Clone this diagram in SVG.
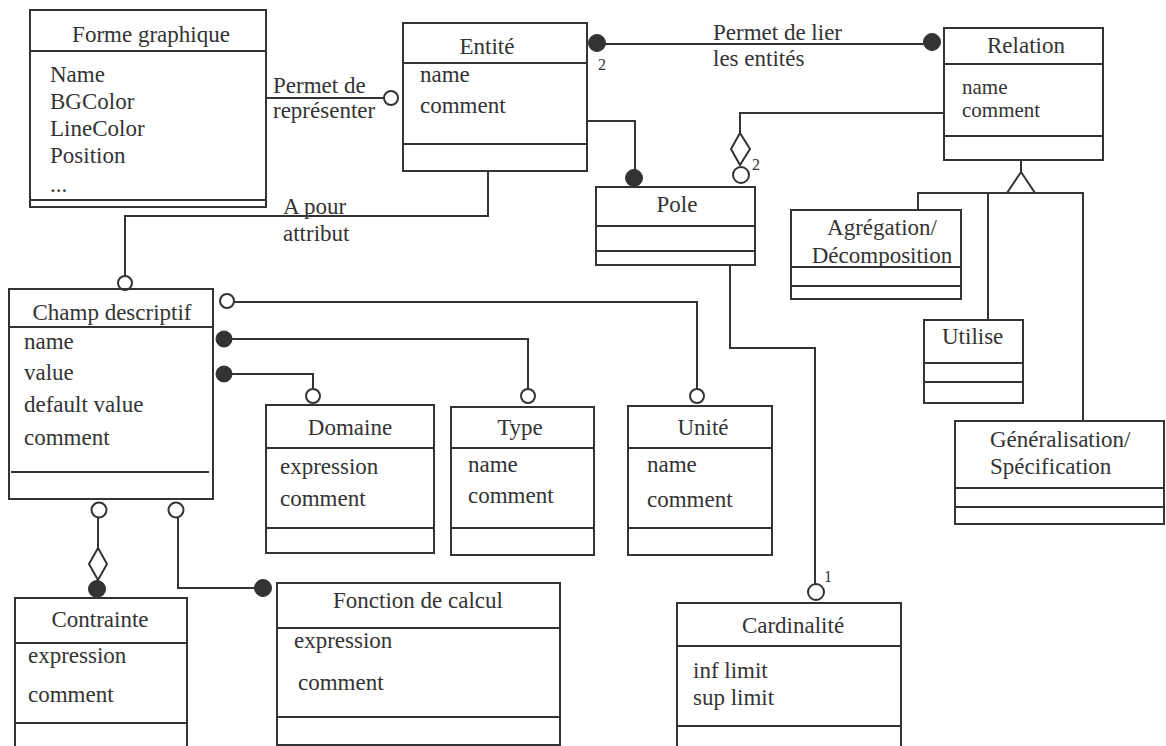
<svg xmlns="http://www.w3.org/2000/svg" width="1166" height="746" viewBox="0 0 1166 746">
<style>
.box{fill:none;stroke:#333;stroke-width:2}
.ln{fill:none;stroke:#333;stroke-width:2}
.t{font-family:"Liberation Serif","Times New Roman",serif;font-size:23px;fill:#333}
.r{font-size:21px}
.s{font-family:"Liberation Serif","Times New Roman",serif;font-size:16px;fill:#333}
.c{text-anchor:middle}
.ho{fill:#fff;stroke:#333;stroke-width:2}
.fi{fill:#333;stroke:#333;stroke-width:1}
</style>
<rect width="1166" height="746" fill="#fff"/>
<g id="connectors">
  <path class="ln" d="M266 98 H384"/>
  <circle class="ho" cx="391" cy="98" r="7"/>
  <text class="t" x="273" y="93">Permet de</text>
  <text class="t" x="273" y="118">représenter</text>
  <path class="ln" d="M597 44 H932"/>
  <circle class="fi" cx="597" cy="43" r="8.5"/>
  <circle class="fi" cx="932" cy="42" r="8.5"/>
  <text class="s" x="598" y="70">2</text>
  <text class="t" x="713" y="40">Permet de lier</text>
  <text class="t" x="713" y="66">les entités</text>
  <path class="ln" d="M587 121 H635 V172"/>
  <circle class="fi" cx="634" cy="178" r="8.5"/>
  <path class="ln" d="M944 113 H740 V133"/>
  <path class="ln" d="M740 133 L750 149 L740 165 L731 149 Z"/>
  <circle class="ho" cx="741" cy="175" r="8"/>
  <text class="s" x="752" y="170">2</text>
  <path class="ln" d="M730 265 V348 H815 V584"/>
  <circle class="ho" cx="816" cy="592" r="8"/>
  <text class="s" x="824" y="582">1</text>
  <path class="ln" d="M1021 160 V172"/>
  <path class="ln" d="M1021 172 L1035 193 L1007 193 Z" fill="#fff"/>
  <path class="ln" d="M918 210 V193 H1083 V421"/>
  <path class="ln" d="M943 193 H989" stroke-width="3.5"/>
  <path class="ln" d="M988 193 V320" stroke-width="2.5"/>
  <path class="ln" d="M488 171 V216 H125 V276"/>
  <circle class="ho" cx="125" cy="283" r="7"/>
  <text class="t" x="283" y="214">A pour</text>
  <text class="t" x="283" y="241">attribut</text>
  <path class="ln" d="M234 302 H697 V389"/>
  <circle class="ho" cx="227" cy="301" r="7"/>
  <circle class="ho" cx="697" cy="396" r="7"/>
  <path class="ln" d="M224 339 H528 V389"/>
  <circle class="fi" cx="224" cy="339" r="8"/>
  <circle class="ho" cx="528" cy="396" r="7"/>
  <path class="ln" d="M224 374 H313 V388"/>
  <circle class="fi" cx="224" cy="374" r="8"/>
  <circle class="ho" cx="313" cy="396" r="7"/>
  <circle class="ho" cx="99" cy="510" r="7.5"/>
  <path class="ln" d="M98 518 V548"/>
  <path class="ln" d="M98 548 L107 564 L98 580 L89 564 Z"/>
  <circle class="fi" cx="97" cy="589" r="8.5"/>
  <circle class="ho" cx="176" cy="510" r="7.5"/>
  <path class="ln" d="M178 518 V588 H263"/>
  <circle class="fi" cx="263" cy="588" r="8.5"/>
</g>
<g id="forme-graphique">
  <rect class="box" x="30" y="10" width="236" height="197"/>
  <path class="ln" d="M30 51 H266 M30 200 H266"/>
  <text class="t c" x="151" y="42">Forme graphique</text>
  <text class="t" x="50" y="82">Name</text>
  <text class="t" x="50" y="109">BGColor</text>
  <text class="t" x="50" y="136">LineColor</text>
  <text class="t" x="50" y="163">Position</text>
  <text class="t" x="50" y="192">...</text>
</g>
<g id="entite">
  <rect class="box" x="403" y="23" width="184" height="148"/>
  <path class="ln" d="M403 63 H587 M403 144 H587"/>
  <text class="t c" x="487" y="54">Entité</text>
  <text class="t" x="420" y="82">name</text>
  <text class="t" x="420" y="113">comment</text>
</g>
<g id="relation">
  <rect class="box" x="944" y="28" width="159" height="132"/>
  <path class="ln" d="M944 64 H1103 M944 136 H1103"/>
  <text class="t c" x="1026" y="53">Relation</text>
  <text class="t r" x="962" y="94">name</text>
  <text class="t r" x="962" y="117">comment</text>
</g>
<g id="pole">
  <rect class="box" x="596" y="187" width="159" height="78"/>
  <path class="ln" d="M596 226 H755 M596 251 H755"/>
  <text class="t c" x="677" y="212">Pole</text>
</g>
<g id="agregation">
  <rect class="box" x="791" y="210" width="170" height="89"/>
  <path class="ln" d="M791 267 H961 M791 286 H961"/>
  <text class="t c" x="882" y="235">Agrégation/</text>
  <text class="t c" x="882" y="263">Décomposition</text>
</g>
<g id="utilise">
  <rect class="box" x="924" y="320" width="99" height="83"/>
  <path class="ln" d="M924 363 H1023 M924 382 H1023"/>
  <text class="t" x="942" y="344">Utilise</text>
</g>
<g id="generalisation">
  <rect class="box" x="955" y="421" width="209" height="103"/>
  <path class="ln" d="M955 488 H1164 M955 507 H1164"/>
  <text class="t" x="990" y="447">Généralisation/</text>
  <text class="t" x="990" y="474">Spécification</text>
</g>
<g id="champ-descriptif">
  <rect class="box" x="9" y="289" width="204" height="210"/>
  <path class="ln" d="M9 327 H213 M11 472 H209"/>
  <text class="t c" x="112" y="320">Champ descriptif</text>
  <text class="t" x="24" y="349">name</text>
  <text class="t" x="24" y="380">value</text>
  <text class="t" x="24" y="412">default value</text>
  <text class="t" x="24" y="445">comment</text>
</g>
<g id="domaine">
  <rect class="box" x="266" y="405" width="168" height="148"/>
  <path class="ln" d="M266 448 H434 M266 528 H434"/>
  <text class="t c" x="350" y="435">Domaine</text>
  <text class="t" x="280" y="474">expression</text>
  <text class="t" x="280" y="506">comment</text>
</g>
<g id="type">
  <rect class="box" x="451" y="407" width="143" height="148"/>
  <path class="ln" d="M451 448 H594 M451 528 H594"/>
  <text class="t c" x="520" y="435">Type</text>
  <text class="t" x="468" y="472">name</text>
  <text class="t" x="468" y="503">comment</text>
</g>
<g id="unite">
  <rect class="box" x="628" y="406" width="144" height="149"/>
  <path class="ln" d="M628 448 H772 M628 528 H772"/>
  <text class="t c" x="703" y="435">Unité</text>
  <text class="t" x="647" y="472">name</text>
  <text class="t" x="647" y="507">comment</text>
</g>
<g id="contrainte">
  <rect class="box" x="15" y="598" width="172" height="170"/>
  <path class="ln" d="M15 643 H187 M15 723 H187"/>
  <text class="t c" x="100" y="627">Contrainte</text>
  <text class="t" x="28" y="663">expression</text>
  <text class="t" x="28" y="702">comment</text>
</g>
<g id="fonction-de-calcul">
  <rect class="box" x="277" y="583" width="283" height="162"/>
  <path class="ln" d="M277 628 H560 M277 717 H560"/>
  <text class="t c" x="418" y="608">Fonction de calcul</text>
  <text class="t" x="294" y="648">expression</text>
  <text class="t" x="298" y="690">comment</text>
</g>
<g id="cardinalite">
  <rect class="box" x="677" y="603" width="224" height="170"/>
  <path class="ln" d="M677 646 H901 M677 726 H901"/>
  <text class="t c" x="793" y="633">Cardinalité</text>
  <text class="t" x="693" y="678">inf limit</text>
  <text class="t" x="693" y="705">sup limit</text>
</g>
</svg>
